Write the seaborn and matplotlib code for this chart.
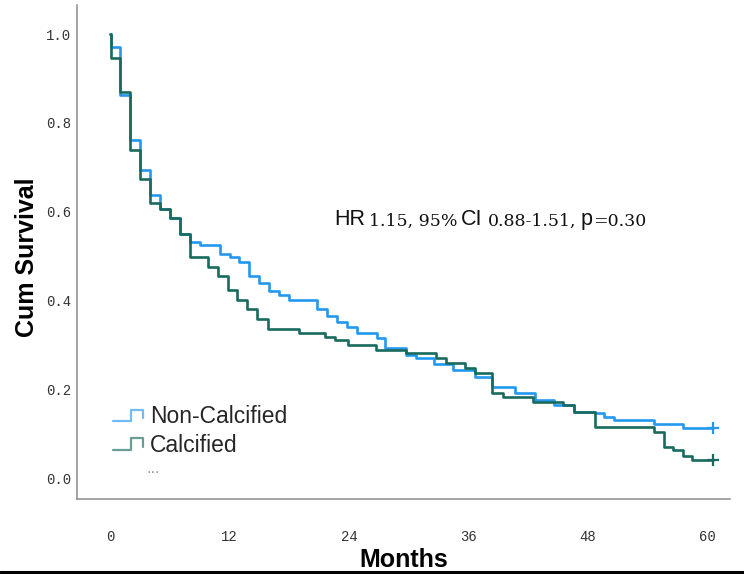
import matplotlib
matplotlib.use('Agg')
import matplotlib.pyplot as plt
import seaborn as sns
import pandas as pd
from matplotlib.lines import Line2D
from matplotlib.legend_handler import HandlerBase

# Kaplan-Meier step values (months, cumulative survival)
noncalc_months = [0, 0.07, 1.0, 2.0, 3.0, 4.0, 5.0, 6.0, 7.0, 8.0, 9.0, 11.0, 12.0, 13.0,
                  14.0, 15.0, 16.0, 17.0, 18.0, 20.8, 21.8, 22.8, 23.8, 24.8, 26.8, 27.6,
                  29.7, 30.7, 32.5, 34.5, 36.7, 38.4, 40.7, 42.7, 44.6, 46.6, 48.7, 49.6,
                  50.6, 54.6, 57.6, 60.6]
noncalc_surv = [1.0, 0.971, 0.863, 0.761, 0.694, 0.637, 0.607, 0.585, 0.551, 0.532, 0.524,
                0.504, 0.497, 0.487, 0.455, 0.440, 0.421, 0.413, 0.401, 0.380, 0.365, 0.352,
                0.341, 0.327, 0.315, 0.292, 0.277, 0.270, 0.258, 0.243, 0.228, 0.206, 0.192,
                0.176, 0.164, 0.149, 0.146, 0.138, 0.131, 0.123, 0.114, 0.114]

calc_months = [0, 0.07, 1.0, 2.0, 3.0, 4.0, 5.0, 6.0, 7.0, 8.0, 9.8, 10.8, 11.8, 12.8,
               13.8, 14.8, 15.9, 19.0, 21.6, 22.6, 23.9, 26.7, 29.7, 32.7, 33.7, 35.7,
               36.7, 38.4, 39.5, 42.5, 45.5, 46.6, 48.7, 54.6, 55.6, 56.6, 57.6, 58.5, 60.6]
calc_surv = [1.0, 0.947, 0.870, 0.739, 0.673, 0.619, 0.607, 0.585, 0.551, 0.498, 0.476,
             0.455, 0.423, 0.401, 0.380, 0.358, 0.335, 0.326, 0.318, 0.311, 0.300, 0.288,
             0.282, 0.270, 0.260, 0.247, 0.237, 0.191, 0.182, 0.172, 0.164, 0.149, 0.116,
             0.104, 0.070, 0.063, 0.050, 0.041, 0.041]

groups = ['Non-Calcified', 'Calcified']
colors = {'Non-Calcified': '#2398ee', 'Calcified': '#186a5e'}
x_ticks = [0, 12, 24, 36, 48, 60]
y_ticks = [0.0, 0.2, 0.4, 0.6, 0.8, 1.0]

df = pd.concat([
    pd.DataFrame({'Months': noncalc_months, 'Survival': noncalc_surv, 'Group': groups[0]}),
    pd.DataFrame({'Months': calc_months, 'Survival': calc_surv, 'Group': groups[1]}),
])

sns.set_style('white')
plt.rcParams['font.family'] = ['Liberation Sans', 'DejaVu Sans']

fig = plt.figure(figsize=(7.44, 5.74), dpi=100)
ax = fig.add_axes([0.1035, 0.1307, 0.878, 0.86])

sns.lineplot(data=df, x='Months', y='Survival', hue='Group', palette=colors,
             drawstyle='steps-post', estimator=None, sort=False, linewidth=1.9,
             legend=False, ax=ax)

# censor marks at end of follow-up
for g, m, s in [(groups[0], noncalc_months, noncalc_surv), (groups[1], calc_months, calc_surv)]:
    ax.plot(m[-1], s[-1], marker='+', markersize=9, markeredgewidth=1.6, color=colors[g])

ax.set_xlim(-3.32, 62.3)
ax.set_ylim(-0.047, 1.065)
ax.set_xticks(x_ticks)
ax.set_xticklabels([str(t) for t in x_ticks])
ax.set_yticks(y_ticks)
ax.set_yticklabels(['%.1f' % t for t in y_ticks])
ax.tick_params(axis='x', length=0, pad=22, labelsize=10, labelcolor='#333333')
ax.tick_params(axis='y', length=0, pad=4, labelsize=10, labelcolor='#333333')
for lab in ax.get_xticklabels() + ax.get_yticklabels():
    lab.set_fontfamily('Liberation Mono')

for side in ['top', 'right']:
    ax.spines[side].set_visible(False)
for side in ['left', 'bottom']:
    ax.spines[side].set_color('#8c8c8c')
    ax.spines[side].set_linewidth(1.1)

ax.set_xlabel('Months', fontsize=18, fontweight='bold', color='black')
ax.set_ylabel('Cum Survival', fontsize=18, fontweight='bold', color='black')
ax.xaxis.label.set_va('center')
ax.xaxis.set_label_coords(0.5, -0.124)
ax.yaxis.label.set_va('center')
ax.yaxis.set_label_coords(-0.076, 0.49)

# hazard ratio text, sans letters with serif numbers
pieces = [('HR', 'Liberation Sans', 15.5, 0),
          ('1.15, 95%', 'DejaVu Serif', 12.5, 2.5),
          ('CI', 'Liberation Sans', 15.5, 3),
          ('0.88-1.51,', 'DejaVu Serif', 12.5, 4),
          ('p', 'Liberation Sans', 15.5, 3),
          ('=0.30', 'DejaVu Serif', 12.5, 0.5)]
prev = ax.text(22.5, 0.56, pieces[0][0], fontfamily=pieces[0][1], fontsize=pieces[0][2],
               va='bottom', ha='left', color='#111111')
for s, fam, size, gap in pieces[1:]:
    prev = ax.annotate(s, xy=(1, 0), xycoords=prev, xytext=(gap, 0), textcoords='offset points',
                       fontfamily=fam, fontsize=size, va='bottom', ha='left', color='#111111')


class StepHandler(HandlerBase):
    def create_artists(self, legend, orig_handle, xdescent, ydescent, width, height, fontsize, trans):
        xs = [0, 0.62, 0.62, 1.0, 1.0]
        ys = [0.15, 0.15, 0.85, 0.85, 0.3]
        line = Line2D([-xdescent + width * a for a in xs], [-ydescent + height * b for b in ys],
                      color=orig_handle.get_color(), lw=1.6, alpha=0.65, transform=trans)
        return [line]


handles = [Line2D([], [], color=colors[g]) for g in groups]
ax.legend(handles, groups, handler_map={Line2D: StepHandler()}, loc='upper left',
          bbox_to_anchor=(0.0547, 0.19), frameon=False, fontsize=16.5, borderpad=0,
          borderaxespad=0, handlelength=1.3, handletextpad=0.32, labelspacing=0.25)
ax.text(0.106, 0.062, '...', transform=ax.transAxes, fontsize=12, color='#999999',
        ha='left', va='center')

# thick rule along the bottom edge of the image
fig.add_artist(Line2D([0, 1], [0.003, 0.003], transform=fig.transFigure, color='black', lw=2.2))

fig.savefig('out.png', dpi=100)
